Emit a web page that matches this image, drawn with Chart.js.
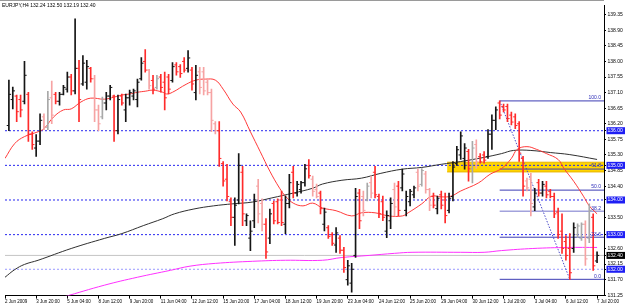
<!DOCTYPE html>
<html>
<head>
<meta charset="utf-8">
<script src="https://cdn.jsdelivr.net/npm/chart.js@4.4.1/dist/chart.umd.min.js"></script>
<style>
  html, body { margin: 0; padding: 0; background: #fff; }
  canvas { display: block; }
</style>
</head>
<body>
<canvas id="eurjpy_chart" width="625" height="306"></canvas>
<script>
// EURJPY H4, 2 Jun - 7 Jul 2009
const symbol = 'EURJPY,H4';

const timeLabels = [
    '2 Jun 2009', '3 Jun 20:00', '5 Jun 04:00', '8 Jun 12:00', '9 Jun 20:00',
    '11 Jun 04:00', '12 Jun 12:00', '15 Jun 20:00', '17 Jun 04:00', '18 Jun 12:00',
    '19 Jun 20:00', '23 Jun 04:00', '24 Jun 12:00', '25 Jun 20:00', '29 Jun 04:00',
    '30 Jun 12:00', '1 Jul 20:00', '3 Jul 04:00', '6 Jul 12:00', '7 Jul 20:00'
];

const opens = [
    136.15, 136.90, 137.00, 136.90, 136.85, 137.05, 135.90, 135.50, 135.70, 136.40,
    136.10, 136.95, 137.05, 136.85, 137.05, 137.20, 137.55, 137.15, 137.80, 137.35,
    137.40, 137.80, 137.50, 136.60, 136.40, 136.80, 137.00, 137.00, 136.00, 137.00,
    136.60, 136.95, 137.00, 136.90, 137.50, 138.00, 137.75, 137.45, 137.25, 137.55,
    137.40, 137.55, 137.45, 137.90, 137.85, 138.00, 137.80, 137.75, 137.10, 137.70,
    137.70, 137.40, 137.10, 136.20, 136.00, 135.05, 134.60, 133.95, 133.50, 134.00,
    134.80, 133.40, 132.90, 133.40, 134.40, 133.90, 133.30, 132.90, 133.90, 133.95,
    134.00, 133.30, 133.90, 134.80, 134.20, 134.30, 134.50, 135.00, 134.60, 134.30,
    134.20, 133.30, 133.20, 133.00, 132.70, 132.90, 132.55, 131.70, 131.60, 132.40,
    134.20, 134.10, 134.00, 134.50, 134.80, 134.10, 133.95, 133.10, 133.40, 134.30,
    134.40, 134.35, 133.70, 133.95, 134.15, 134.80, 134.45, 134.75, 134.30, 134.10,
    133.75, 134.15, 134.00, 133.70, 134.10, 135.05, 135.30, 135.20, 135.40, 134.90,
    135.60, 135.25, 135.30, 135.25, 135.90, 136.30, 136.80, 136.70, 136.70, 136.45,
    136.40, 136.20, 135.20, 134.55, 134.60, 133.80, 134.50, 134.20, 134.40, 134.25,
    134.10, 133.65, 133.10, 132.80, 132.60, 132.60, 133.00, 132.90, 133.30, 132.90,
    133.50, 132.24
];

const highs = [
    137.46, 137.26, 137.03, 137.03, 138.00, 137.11, 135.97, 135.89, 136.49, 136.49,
    137.14, 137.43, 137.11, 137.11, 137.31, 137.69, 137.63, 139.23, 138.03, 138.17,
    138.03, 137.83, 137.60, 136.74, 136.97, 137.11, 137.31, 137.03, 137.03, 137.06,
    137.06, 137.17, 137.20, 137.49, 138.11, 138.34, 137.77, 137.60, 137.60, 137.63,
    137.69, 137.63, 137.97, 137.97, 137.91, 138.11, 138.31, 137.83, 137.89, 137.83,
    137.83, 137.49, 137.20, 136.26, 136.26, 135.11, 135.03, 134.06, 134.06, 135.34,
    134.97, 133.60, 133.40, 134.17, 134.60, 134.03, 133.46, 133.74, 133.97, 134.03,
    134.26, 134.11, 134.74, 134.97, 134.54, 134.54, 135.03, 135.17, 134.69, 134.46,
    134.26, 133.77, 133.26, 133.06, 133.20, 132.97, 132.63, 132.26, 132.17, 134.34,
    134.31, 134.26, 134.49, 134.69, 134.97, 134.17, 134.11, 133.69, 134.06, 134.49,
    134.54, 134.89, 134.26, 134.31, 134.40, 134.89, 134.91, 134.83, 134.34, 134.20,
    134.11, 134.26, 134.20, 134.20, 135.11, 135.55, 135.97, 135.63, 135.46, 135.69,
    135.74, 135.34, 135.40, 136.03, 136.46, 136.69, 136.86, 136.77, 136.77, 136.54,
    136.49, 136.26, 135.26, 134.63, 134.77, 134.34, 134.60, 134.54, 134.54, 134.31,
    134.20, 133.77, 133.60, 132.97, 133.03, 133.34, 133.31, 133.34, 133.40, 133.89,
    133.60, 132.50
];

const lows = [
    136.00, 136.63, 136.26, 136.40, 136.77, 135.69, 135.46, 135.26, 135.60, 136.03,
    136.03, 136.20, 136.77, 136.74, 137.03, 137.11, 137.03, 137.06, 136.26, 137.31,
    137.20, 137.40, 136.26, 136.00, 136.34, 136.60, 136.89, 135.69, 135.91, 136.74,
    136.26, 136.74, 136.89, 136.69, 137.46, 137.69, 137.20, 137.06, 137.20, 137.11,
    136.60, 137.06, 137.40, 137.60, 137.54, 137.69, 137.69, 137.17, 136.89, 137.06,
    137.03, 137.03, 135.97, 135.91, 134.97, 134.40, 133.97, 133.26, 132.69, 133.89,
    133.26, 133.26, 132.54, 133.20, 133.34, 133.11, 132.31, 132.74, 133.31, 133.31,
    133.26, 133.03, 133.77, 134.06, 134.11, 134.20, 134.40, 134.63, 134.11, 134.06,
    133.60, 133.11, 132.89, 132.69, 132.49, 132.46, 131.91, 131.54, 131.34, 132.34,
    133.17, 133.54, 133.97, 134.06, 134.06, 133.49, 133.40, 132.91, 133.17, 133.54,
    133.54, 134.26, 133.54, 133.83, 134.06, 134.26, 134.40, 134.20, 133.69, 133.77,
    133.60, 133.74, 133.34, 133.63, 133.97, 135.00, 135.17, 134.89, 134.54, 134.49,
    134.91, 135.06, 135.06, 135.20, 135.46, 136.03, 136.34, 136.54, 136.26, 136.17,
    136.06, 135.11, 134.11, 134.26, 133.54, 133.69, 134.11, 134.11, 134.06, 134.06,
    133.49, 132.89, 132.46, 132.26, 131.71, 132.49, 132.91, 132.83, 132.11, 132.77,
    131.97, 132.19
];

const closes = [
    137.05, 137.15, 136.55, 136.60, 137.60, 135.90, 135.60, 135.70, 136.30, 136.10,
    136.90, 136.45, 136.85, 137.05, 137.25, 137.55, 137.15, 137.80, 136.90, 137.95,
    137.85, 137.50, 136.60, 136.20, 136.80, 137.00, 137.25, 136.00, 136.90, 136.80,
    136.95, 137.10, 137.15, 137.40, 137.95, 137.75, 137.30, 137.20, 137.50, 137.25,
    136.95, 137.20, 137.85, 137.70, 137.65, 137.75, 138.10, 137.35, 137.60, 137.25,
    137.15, 137.10, 136.30, 136.00, 135.20, 134.55, 134.10, 133.50, 133.85, 135.00,
    133.60, 133.55, 133.10, 134.00, 133.60, 133.30, 132.50, 133.60, 133.40, 133.35,
    133.35, 133.90, 134.50, 134.20, 134.45, 134.50, 134.90, 134.70, 134.25, 134.10,
    133.75, 133.65, 132.95, 132.75, 133.05, 132.55, 132.05, 132.10, 132.00, 134.10,
    133.40, 133.70, 134.40, 134.20, 134.15, 133.60, 133.50, 133.55, 133.90, 133.80,
    133.70, 134.75, 134.10, 134.25, 134.35, 134.40, 134.85, 134.30, 133.85, 133.85,
    134.05, 133.85, 133.55, 134.05, 134.95, 135.45, 135.85, 135.50, 134.90, 135.50,
    135.10, 135.10, 135.15, 135.90, 136.30, 136.60, 136.45, 136.60, 136.35, 136.25,
    136.15, 135.35, 134.40, 134.35, 133.90, 134.20, 134.20, 134.45, 134.15, 134.10,
    133.60, 133.00, 132.60, 132.40, 131.90, 133.20, 133.25, 133.30, 132.30, 133.70,
    132.10, 132.40
];

// moving averages, read at bar positions
const fastMaBar = [
    -1, 1.5, 4, 7.5, 9, 11.5, 14, 16, 18.5, 21, 24.5, 27, 29, 31, 33, 35, 37, 39.5, 40.5, 42,
    45.5, 48, 50.5, 53, 55, 57.5, 59.5, 62, 64.5, 67, 69.5, 71, 73, 75.5, 78, 80.5, 84, 88, 90.5, 94,
    97.5, 101, 102.5, 106, 108.5, 111, 113.5, 116, 120.5, 123.5, 126.5, 129, 130.5, 133, 135.5, 138,
    141, 142.5, 145, 147.5, 149, 151
];
const fastMa = [
    135.20, 135.63, 135.83, 135.97, 136.06, 136.40, 136.60, 136.63, 136.83, 136.94,
    136.91, 136.97, 137.03, 137.06, 137.11, 137.14, 137.17, 137.11, 137.06, 137.11,
    137.34, 137.46, 137.49, 137.46, 137.20, 136.77, 136.54, 135.97, 135.40, 134.83,
    134.34, 134.11, 133.91, 133.83, 133.91, 133.77, 133.69, 133.54, 133.63, 133.63,
    133.54, 133.54, 133.63, 133.89, 134.11, 134.09, 134.11, 134.26, 134.49, 134.74,
    134.91, 135.20, 135.46, 135.54, 135.46, 135.34, 135.17, 134.91, 134.54, 134.11,
    133.83, 133.60
];

const slowMaBar = [
    -1, 1.5, 4, 7.5, 16, 24.5, 29, 34.5, 39.5, 42.5, 47.5, 52.5, 57.5, 62.5, 67.5, 73,
    78, 80.5, 85.5, 90.5, 95.5, 101, 106, 111, 116, 122, 126.5, 129.5, 134, 139, 144, 151
];
const slowMa = [
    131.77, 131.99, 132.14, 132.26, 132.60, 132.89, 133.03, 133.26, 133.46, 133.60,
    133.74, 133.83, 133.89, 133.94, 134.06, 134.20, 134.34, 134.46, 134.57, 134.63,
    134.77, 134.89, 134.94, 135.03, 135.11, 135.23, 135.34, 135.43, 135.43, 135.37,
    135.31, 135.17
];

const longMaBar = [
    14, 24.5, 33, 41.5, 46.5, 53, 62.5, 71, 80.5, 85.5, 92.5, 99, 103.5, 116, 122, 126.5,
    134.5, 143.5, 151
];
const longMa = [
    131.20, 131.54, 131.77, 131.97, 132.09, 132.17, 132.23, 132.26, 132.26, 132.34,
    132.40, 132.46, 132.49, 132.49, 132.49, 132.54, 132.60, 132.63, 132.63
];

// horizontal levels and fibonacci
const levelPrices = [136, 135, 134, 133, 132];
const priceTicks = [
    131.25, 131.70, 132.15, 132.60, 133.50, 134.40, 134.85, 135.30, 135.75,
    136.20, 136.65, 137.10, 137.55, 138.00, 138.45, 138.90, 139.35
];
const fibHighBar = 126, fibHigh = 136.86;
const fibLowBar = 144, fibLow = 131.71;
const fibLevels = [100.0, 61.8, 50.0, 38.2, 23.6, 0.0];
const bandStartBar = 112.5, bandTop = 135.09, bandBottom = 134.81;
const fadedBars = [
    9, 10, 11, 22, 23, 24, 36, 38, 49, 50, 51, 52, 53, 64, 65, 78, 79, 91, 92, 93,
    99, 105, 106, 107, 108, 119, 120, 133, 134, 146, 147, 148, 149
];

const lastBar = closes.length - 1;
const xMin = -1, xMax = 152.78;
const fibPrice = lvl => fibLow + (fibHigh - fibLow) * lvl / 100;

function barColor(i) {
    const up = closes[i] >= opens[i];
    const faded = fadedBars.includes(i);
    if (up) return faded ? '#a8a8a8' : '#151515';
    return faded ? '#f6a3a3' : '#ff2b2b';
}

function hLine(price, from, color, dash, order, width) {
    return {
        type: 'line',
        data: [{ x: from, y: price }, { x: xMax, y: price }],
        borderColor: color,
        borderWidth: width || 1,
        borderDash: dash || [],
        pointRadius: 0,
        order: order
    };
}

const datasets = [];

// bars, open and close ticks
datasets.push({
    type: 'bar',
    data: highs.map((h, i) => ({ x: i, y: [lows[i], h] })),
    backgroundColor: ctx => barColor(ctx.dataIndex),
    barThickness: 1,
    borderWidth: 0,
    grouped: false,
    order: 1
});
datasets.push({
    type: 'line',
    showLine: false,
    data: opens.map((o, i) => ({ x: i - 0.3, y: o })),
    pointStyle: 'line',
    pointRadius: 1,
    pointBorderWidth: 1,
    pointBorderColor: ctx => barColor(ctx.dataIndex),
    order: 0
});
datasets.push({
    type: 'line',
    showLine: false,
    data: closes.map((c, i) => ({ x: i + 0.3, y: c })),
    pointStyle: 'line',
    pointRadius: 1,
    pointBorderWidth: 1,
    pointBorderColor: ctx => barColor(ctx.dataIndex),
    order: 0
});

// moving averages
[[fastMaBar, fastMa, '#ff3b3b'], [slowMaBar, slowMa, '#303030'], [longMaBar, longMa, '#ff30ff']]
    .forEach(([bars, vals, col]) => {
        datasets.push({
            type: 'line',
            data: bars.map((b, i) => ({ x: b, y: vals[i] })),
            borderColor: col,
            borderWidth: 1,
            pointRadius: 0,
            tension: 0.4,
            order: 2
        });
    });

// bid line
datasets.push(hLine(closes[lastBar], xMin, '#c4c4c4', [], 5));

// dotted price levels
levelPrices.forEach(p => {
    datasets.push(hLine(p, xMin, p === 132 ? '#9a9aff' : '#2626f0', [2, 2], 4));
});

// fibonacci lines
fibLevels.forEach(l => {
    datasets.push(hLine(fibPrice(l), fibHighBar, l === 38.2 ? '#a2a2dc' : '#3b3bb4', [], 3, l === 38.2 ? 1.5 : 1));
});
datasets.push({
    type: 'line',
    data: [{ x: fibHighBar, y: fibHigh }, { x: fibLowBar, y: fibLow }],
    borderColor: '#4a4ac8',
    borderWidth: 1,
    borderDash: [1.5, 1.5],
    pointRadius: 0,
    order: 3
});

// yellow zone around 61.8
datasets.push(hLine(bandTop, bandStartBar, '#e8b400', [], 8));
const bandLow = hLine(bandBottom, bandStartBar, '#e8b400', [], 8);
bandLow.fill = '-1';
bandLow.backgroundColor = '#ffd500';
datasets.push(bandLow);

const boxedPrices = levelPrices.concat([closes[lastBar]]);
const isBoxed = v => boxedPrices.some(b => Math.abs(b - v) < 1e-6);

const overlay = {
    id: 'overlay',
    beforeDraw(chart) {
        const { ctx, chartArea } = chart;
        ctx.save();
        ctx.strokeStyle = '#9a9a9a';
        ctx.beginPath();
        ctx.moveTo(0, 0.5);
        ctx.lineTo(chartArea.right, 0.5);
        ctx.stroke();
        ctx.restore();
    },
    afterDatasetsDraw(chart) {
        const { ctx, scales: { x, y } } = chart;
        ctx.save();
        ctx.font = '5px "Liberation Sans"';
        ctx.fillStyle = '#000';
        ctx.textBaseline = 'top';
        const head = [opens[lastBar], highs[lastBar], lows[lastBar], closes[lastBar]]
            .map(v => v.toFixed(2)).join(' ');
        ctx.fillText(symbol + ' ' + head, 2, 3);
        ctx.fillStyle = '#2a2ab8';
        ctx.textAlign = 'right';
        ctx.textBaseline = 'bottom';
        fibLevels.forEach(l => {
            ctx.fillText(l.toFixed(1), x.right - 3, y.getPixelForValue(fibPrice(l)) - 0.5);
        });
        ctx.restore();
    }
};

const ctx = document.getElementById('eurjpy_chart').getContext('2d');
const priceChart = new Chart(ctx, {
    type: 'line',
    data: { datasets: datasets },
    options: {
        responsive: false,
        devicePixelRatio: 1,
        animation: false,
        events: [],
        layout: { padding: { top: 2, left: 0, right: 0, bottom: 0 } },
        plugins: { legend: { display: false }, tooltip: { enabled: false } },
        scales: {
            x: {
                type: 'linear',
                min: xMin,
                max: xMax,
                offset: false,
                position: 'bottom',
                grid: { offset: false, drawOnChartArea: false, tickLength: 3, color: '#000' },
                border: { color: '#000' },
                ticks: {
                    autoSkip: false,
                    maxRotation: 0,
                    align: 'start',
                    padding: 0,
                    color: '#000',
                    font: { size: 4.5, family: 'Liberation Sans' },
                    callback: (v, i) => timeLabels[i]
                },
                afterBuildTicks: s => { s.ticks = timeLabels.map((t, i) => ({ value: -1 + 8 * i })); },
                afterFit: s => { s.height = 10.4; s.paddingLeft = 0; s.paddingRight = 0; }
            },
            y: {
                type: 'linear',
                position: 'right',
                min: 131.24,
                max: 139.629,
                grid: { drawOnChartArea: false, tickLength: 2, color: '#000' },
                border: { color: '#000' },
                ticks: {
                    autoSkip: false,
                    padding: 1.5,
                    font: { size: 5, family: 'Liberation Sans' },
                    color: c => isBoxed(c.tick.value) ? '#fff' : '#000',
                    showLabelBackdrop: c => isBoxed(c.tick.value),
                    backdropColor: c => Math.abs(c.tick.value - closes[lastBar]) < 1e-6 ? '#000' : '#1e1ef4',
                    backdropPadding: { top: 0.5, bottom: 0.5, left: 1, right: 4 },
                    callback: v => v.toFixed(2)
                },
                afterBuildTicks: s => {
                    s.ticks = priceTicks.concat(boxedPrices).map(v => ({ value: v }));
                },
                afterFit: s => { s.width = 21; s.paddingTop = 0; s.paddingBottom = 0; }
            }
        }
    },
    plugins: [overlay]
});
</script>
</body>
</html>
